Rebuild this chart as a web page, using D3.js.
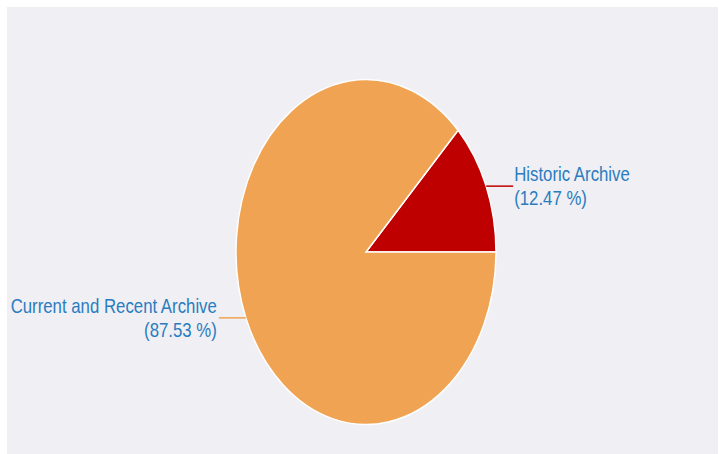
<!DOCTYPE html>
<html>
<head>
<meta charset="utf-8">
<script src="https://cdn.jsdelivr.net/npm/d3@7"></script>
<style>
  html, body { margin: 0; padding: 0; background: #ffffff; }
  svg { display: block; }
</style>
</head>
<body>
<div id="chart"></div>
<script>
// chart data
const labels = ["Historic Archive", "Current and Recent Archive"];
const values = [12.47, 87.53];
const colors = ["#bf0000", "#f0a352"];

(function() {
    const width = 719
    const height = 454

    const svg = d3.select("#chart")
        .append("svg")
        .attr("width", width)
        .attr("height", height)

    // grey plot panel
    svg.append("rect")
        .attr("x", 7)
        .attr("y", 7)
        .attr("width", width - 8)
        .attr("height", height - 7)
        .attr("fill", "#efeff4")

    const cx = 366
    const cy = 252
    const ry = 172.5
    const rx = 130
    const sx = rx / ry

    const data = labels.map((l, i) => ({label: l, value: values[i], color: colors[i]}))

    // slices go counter-clockwise from 3 o'clock
    const pie = d3.pie()
        .sort(null)
        .value(d => d.value)
        .startAngle(Math.PI / 2)
        .endAngle(Math.PI / 2 - 2 * Math.PI)

    const arc = d3.arc().innerRadius(0).outerRadius(ry)
    const arcs = pie(data)

    const g = svg.append("g")
        .attr("transform", `translate(${cx},${cy}) scale(${sx},1)`)

    g.selectAll("path")
        .data(arcs)
        .join("path")
        .attr("d", arc)
        .attr("fill", d => d.data.color)
        .attr("stroke", "#ffffff")
        .attr("stroke-width", 1.5)
        .attr("vector-effect", "non-scaling-stroke")

    // leader lines + labels
    const leader = 27
    const fmt = d3.format(".2f")

    arcs.forEach(d => {
        const a = (d.startAngle + d.endAngle) / 2
        const px = cx + rx * Math.sin(a)
        const py = cy - ry * Math.cos(a)
        const right = Math.sin(a) > 0
        const ex = right ? px + leader : px - leader

        svg.append("line")
            .attr("x1", px)
            .attr("y1", py)
            .attr("x2", ex)
            .attr("y2", py)
            .attr("stroke", d.data.color)
            .attr("stroke-width", 1.5)

        const tx = right ? ex + 1 : ex - 2
        const t = svg.append("g")
            .attr("transform", `translate(${tx},${py - 5}) scale(0.84,1)`)
            .append("text")
            .attr("text-anchor", right ? "start" : "end")
            .attr("font-family", "Liberation Sans, Arial, sans-serif")
            .attr("font-size", 20)
            .attr("fill", "#2a7cbf")

        t.append("tspan").attr("x", 0).attr("y", 0).text(d.data.label)
        t.append("tspan").attr("x", 0).attr("y", 24).text("(" + fmt(d.data.value) + " %)")
    })
})();
</script>
</body>
</html>
